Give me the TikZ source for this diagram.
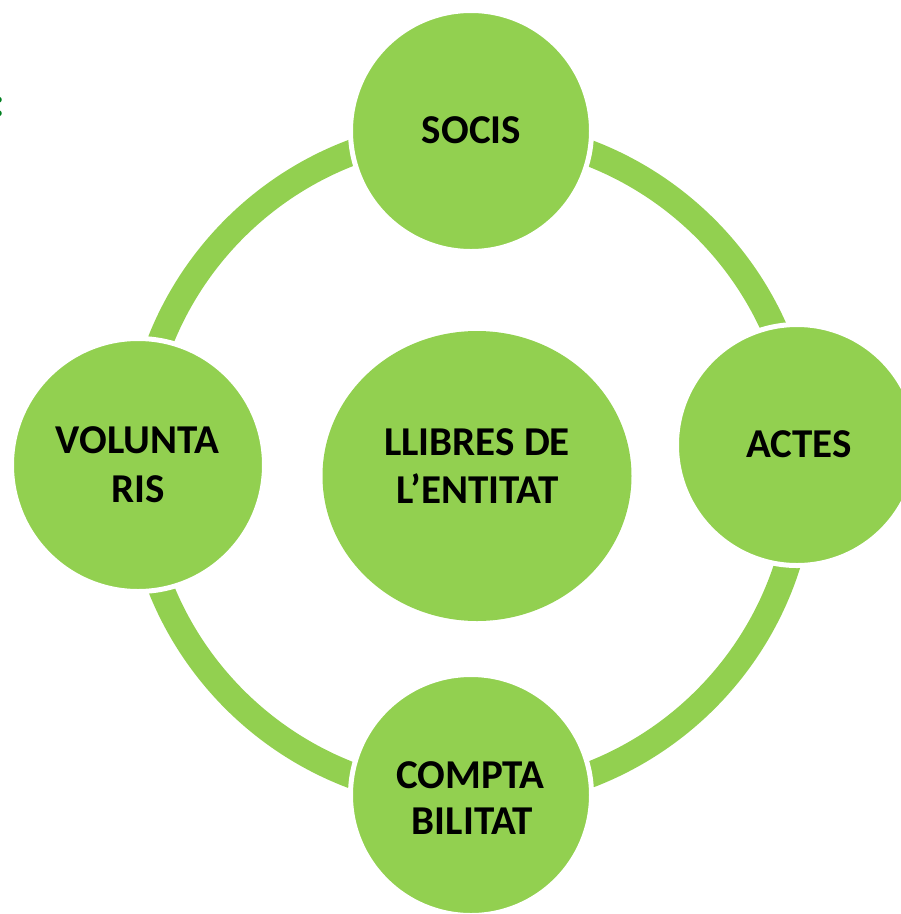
\documentclass[tikz,border=0pt]{standalone}
\usepackage{fontspec}
\usetikzlibrary{shapes.geometric}
\setmainfont{Carlito}
\definecolor{ringgreen}{HTML}{92D050}
\definecolor{darkgreen}{HTML}{007F1F}
\begin{document}
\begin{tikzpicture}[x=1pt,y=-1pt,
  bubble/.style={circle,fill=ringgreen,draw=white,line width=5pt,inner sep=0pt},
  lbl/.style={anchor=base,inner sep=0pt,font=\fontsize{41}{49}\selectfont\bfseries,text=black}]
\useasboundingbox (0,0) rectangle (901,914);
% ring
\coordinate (ringc) at (470,464);
\draw[ringgreen,line width=26pt] (ringc) circle[radius=333pt];
% outer circles
\node[bubble,minimum size=241pt] (socis) at (471,131) {};
\node[bubble,minimum size=241pt] (actes) at (797,445) {};
\node[bubble,minimum size=241pt] (compta) at (471,795) {};
\node[bubble,minimum size=253pt] (volunt) at (138,465) {};
% centre
\node[ellipse,fill=ringgreen,inner sep=0pt,minimum width=309pt,minimum height=290pt] (centre) at (477,476) {};
% labels
\node[lbl] (tsocis) at (471.5,143) {SOCIS};
\node[lbl] (tactes) at (799,457) {ACTES};
\node[lbl] (tvol1) at (137.5,453) {VOLUNTA};
\node[lbl] (tvol2) at (138,502) {RIS};
\node[lbl] (tcen1) at (477,455) {LLIBRES DE};
\node[lbl] (tcen2) at (477.5,503) {L’ENTITAT};
\node[lbl] (tcom1) at (470.5,788) {COMPTA};
\node[lbl] (tcom2) at (472.5,834) {BILITAT};
% cropped colon at the left edge
\node[anchor=base east,inner sep=0pt,font=\fontsize{41}{49}\selectfont\bfseries,text=darkgreen] (colon) at (5,116) {:};
\end{tikzpicture}
\end{document}
